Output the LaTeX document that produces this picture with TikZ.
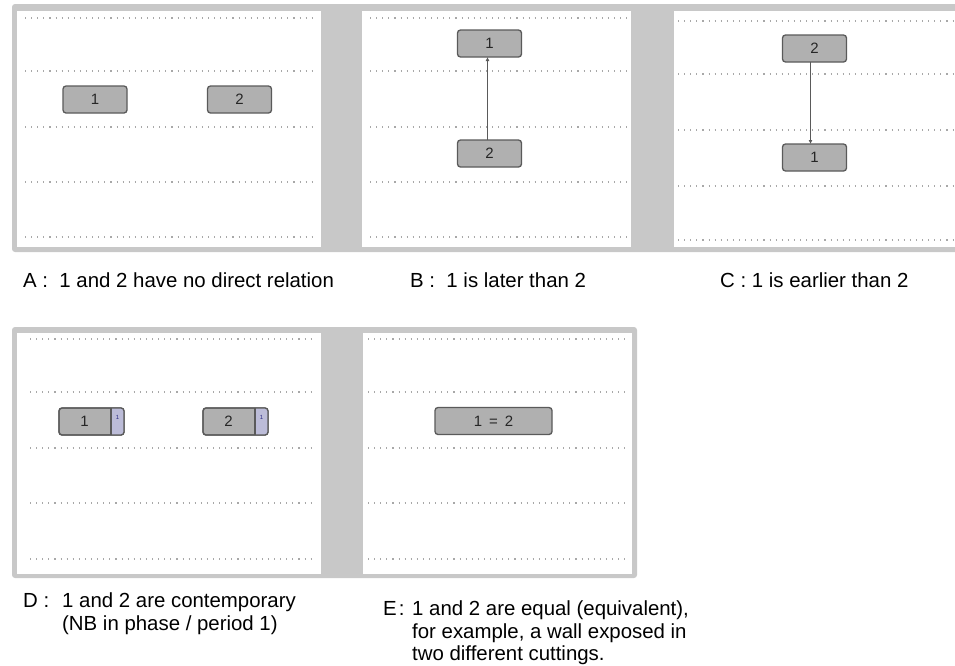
\documentclass[tikz,border=0pt]{standalone}
\usepackage{fontspec}
\setmainfont{Liberation Sans}
\usetikzlibrary{arrows.meta}
\definecolor{framegray}{HTML}{C8C8C8}
\definecolor{boxfill}{HTML}{B0B0B0}
\definecolor{boxline}{HTML}{5A5A5A}
\definecolor{dotgray}{HTML}{A8A8A8}
\definecolor{tabfill}{HTML}{BCBCD8}
\definecolor{tabmark}{HTML}{2A2A80}
\begin{document}
\begin{tikzpicture}[x=1pt,y=-1pt,
 unit/.style={draw=boxline, fill=boxfill, line width=1.3pt, rounded corners=3pt,
   minimum width=64pt, minimum height=27pt, inner sep=0pt, outer sep=0pt,
   font=\fontsize{15}{15}\selectfont, text=black!85},
 gridline/.style={dotgray, line width=2.6pt, dash pattern=on 1.1pt off 5pt},
 captext/.style={anchor=west, inner sep=0pt, font=\fontsize{20.4}{22.5}\selectfont},
 rel/.style={draw=boxline, line width=1pt, -{Latex[length=4pt,width=4pt]}},
 panel/.style={fill=white},
 frame/.style={fill=framegray, rounded corners=3pt}
]
\useasboundingbox (0,0) rectangle (955,665);
\fill[white] (0,0) rectangle (955,665);
% ---------- top frame ----------
\fill[frame] (12,4) rectangle (965,252);
\fill[panel] (17,11) rectangle (321,247);
\fill[panel] (362,11) rectangle (631,247);
\fill[panel] (674,11) rectangle (955,247);
\foreach \y in {18,71,127,182,237} {
  \draw[gridline] (25,\y) -- (312,\y);
  \draw[gridline] (370,\y) -- (627,\y);
}
\foreach \y in {21,74,130,186,240} \draw[gridline] (678,\y) -- (955,\y);
% A
\node[unit] (a1) at (95,99.5) {1};
\node[unit] (a2) at (239.5,99.5) {2};
% B
\node[unit] (b1) at (489.5,43.5) {1};
\node[unit] (b2) at (489.5,153.5) {2};
\draw[rel] ([xshift=-2pt]b2.north) -- ([xshift=-2pt]b1.south);
% C
\node[unit] (c2) at (814.5,48.5) {2};
\node[unit] (c1) at (814.5,157.5) {1};
\draw[rel] ([xshift=-4pt]c2.south) -- ([xshift=-4pt]c1.north);
% captions
\node[captext] (capA) at (23,280) {A :\ \ 1 and 2 have no direct relation};
\node[captext] (capB) at (410,280) {B :\ \ 1 is later than 2};
\node[captext] (capC) at (720,280) {C : 1 is earlier than 2};
% ---------- bottom frame ----------
\fill[frame] (12,327) rectangle (637,578);
\fill[panel] (17,333) rectangle (321,574);
\fill[panel] (363,333) rectangle (632,574);
\foreach \y in {339,392,448,503,559} {
  \draw[gridline] (30,\y) -- (315,\y);
  \draw[gridline] (368,\y) -- (625,\y);
}
% D
\foreach \n/\x in {1/91.5,2/235.5} {
  \node[unit, minimum width=65pt] (d\n) at (\x,421.5) {};
  \begin{scope}
    \clip[rounded corners=3pt] (d\n.north west) rectangle (d\n.south east);
    \fill[tabfill] ([xshift=-13pt]d\n.north east) rectangle (d\n.south east);
  \end{scope}
  \draw[boxline, line width=1.3pt, rounded corners=3pt] (d\n.north west) rectangle (d\n.south east);
  \draw[boxline, line width=1.3pt] ([xshift=-13pt]d\n.north east) -- ([xshift=-13pt]d\n.south east);
  \node[font=\fontsize{15}{15}\selectfont, text=black!85] at ([xshift=-7pt]d\n.center) {\n};
  \node[font=\fontsize{6}{6}\selectfont, text=tabmark, inner sep=0pt] at ([xshift=-6.5pt,yshift=4pt]d\n.east) {1};
}
% E
\node[unit, minimum width=117pt] (e) at (493.5,421) {1\hspace{7pt}=\hspace{7pt}2};
% captions
\node[captext, anchor=north west] (capD) at (23,592) {\begin{tabular}{@{}l@{}l@{}}\makebox[39pt][l]{D :} & 1 and 2 are contemporary\\ & (NB in phase / period 1)\end{tabular}};
\node[captext, anchor=north west] (capE) at (383,600) {\begin{tabular}{@{}l@{}l@{}}\makebox[29pt][l]{E\hspace{2pt}:} & 1 and 2 are equal (equivalent),\\ & for example, a wall exposed in\\ & two different cuttings.\end{tabular}};
\end{tikzpicture}
\end{document}
